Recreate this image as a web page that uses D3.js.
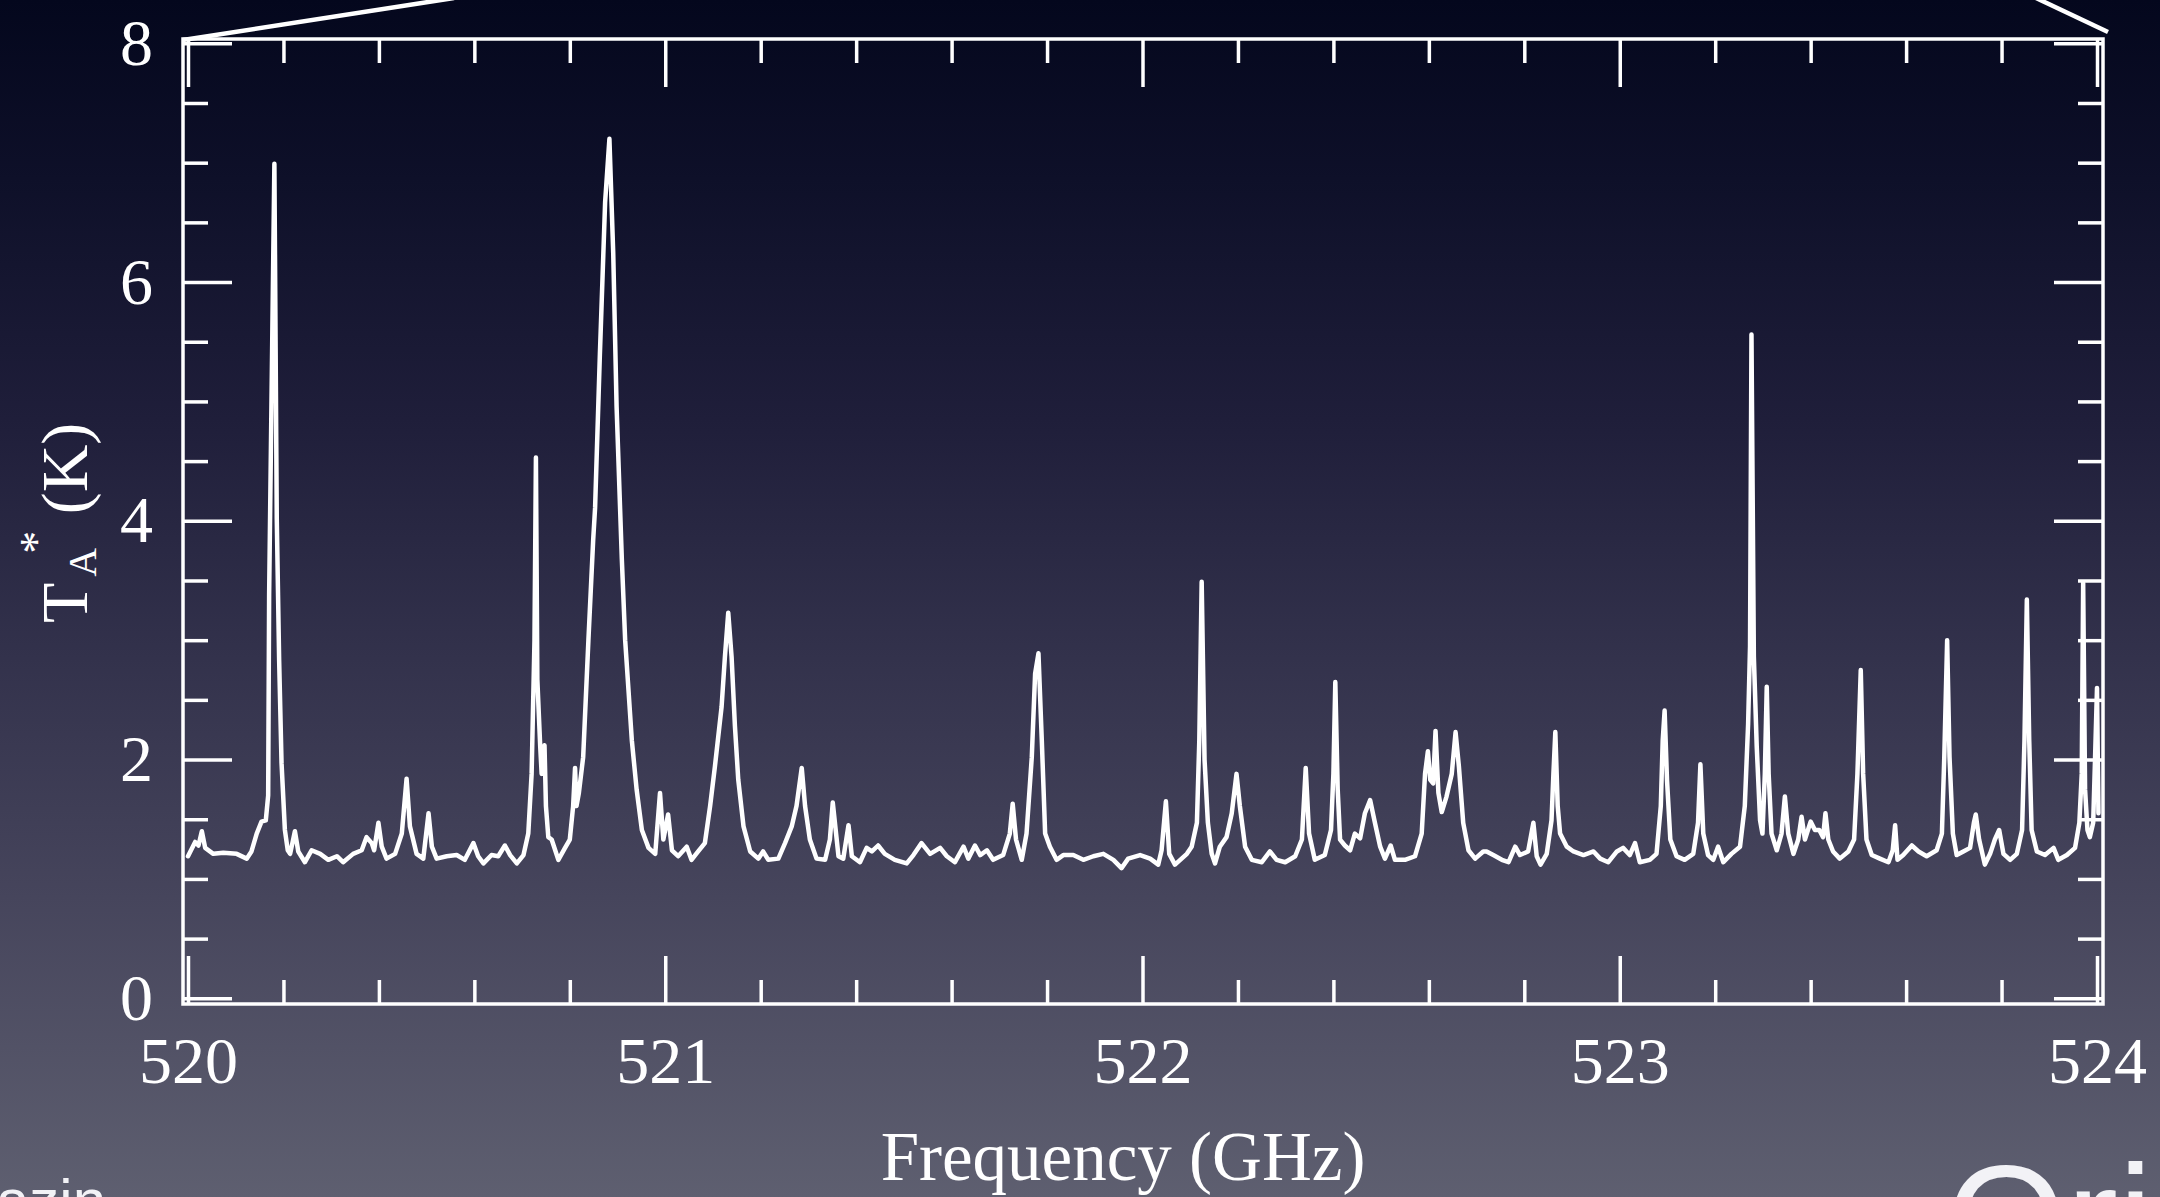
<!DOCTYPE html>
<html><head><meta charset="utf-8">
<script src="https://cdn.jsdelivr.net/npm/d3@7/dist/d3.min.js"></script>
<style>html,body{margin:0;padding:0;overflow:hidden;background:#1a1a30}</style>
</head><body>
<svg id="chart" width="2160" height="1197"></svg>
<script>
// ---- data ----
const frequencyGHz = [
520.000,520.015,520.022,520.029,520.036,520.053,520.074,520.102,520.123,520.133,520.144,520.154,520.163,520.168,520.170,520.181,520.186,520.191,520.196,520.203,
520.209,520.214,520.224,520.231,520.245,520.259,520.277,520.294,520.312,520.325,520.346,520.364,520.374,520.385,520.390,520.399,520.406,520.416,520.434,520.448,
520.458,520.465,520.479,520.493,520.504,520.511,520.521,520.542,520.563,520.580,520.598,520.608,520.619,520.636,520.650,520.664,520.675,520.689,520.703,520.713,
520.720,520.726,520.729,520.732,520.738,520.741,520.747,520.750,520.755,520.762,520.776,520.790,520.800,520.807,520.811,520.814,520.819,520.828,520.839,520.849,
520.853,520.863,520.874,520.883,520.891,520.898,520.909,520.916,520.930,520.940,520.951,520.965,520.979,520.989,520.996,521.006,521.014,521.027,521.045,521.055,
521.069,521.083,521.094,521.104,521.118,521.125,521.132,521.139,521.146,521.153,521.164,521.178,521.195,521.205,521.216,521.237,521.251,521.265,521.275,521.286,
521.293,521.303,521.317,521.335,521.345,521.351,521.363,521.373,521.384,521.391,521.408,521.422,521.433,521.446,521.460,521.481,521.506,521.520,521.537,521.555,
521.576,521.590,521.607,521.625,521.635,521.649,521.660,521.674,521.687,521.708,521.722,521.728,521.735,521.747,521.757,521.768,521.775,521.782,521.789,521.796,
521.806,521.820,521.834,521.855,521.876,521.897,521.918,521.939,521.956,521.970,521.995,522.016,522.033,522.040,522.049,522.056,522.068,522.082,522.093,522.103,
522.114,522.119,522.124,522.130,522.137,522.145,522.152,522.162,522.176,522.187,522.197,522.204,522.215,522.229,522.250,522.267,522.281,522.299,522.320,522.334,
522.342,522.349,522.361,522.382,522.395,522.400,522.404,522.409,522.414,522.424,522.435,522.445,522.456,522.466,522.477,522.487,522.498,522.508,522.520,522.529,
522.550,522.571,522.585,522.592,522.598,522.603,522.609,522.614,522.620,522.627,522.637,522.648,522.656,522.663,522.672,522.683,522.697,522.714,522.721,522.735,
522.753,522.767,522.781,522.791,522.808,522.819,522.826,522.834,522.847,522.857,522.861,522.865,522.870,522.875,522.889,522.903,522.924,522.945,522.959,522.976,
522.994,523.007,523.021,523.032,523.042,523.063,523.077,523.086,523.090,523.094,523.099,523.106,523.119,523.136,523.154,523.164,523.169,523.175,523.185,523.196,
523.206,523.217,523.234,523.252,523.262,523.269,523.273,523.276,523.281,523.287,523.294,523.299,523.304,523.308,523.312,523.318,523.329,523.339,523.346,523.353,
523.364,523.374,523.381,523.388,523.400,523.409,523.418,523.426,523.431,523.437,523.447,523.461,523.479,523.491,523.498,523.505,523.510,523.517,523.528,523.545,
523.563,523.572,523.577,523.582,523.594,523.612,523.626,523.643,523.664,523.675,523.680,523.686,523.691,523.698,523.706,523.720,523.734,523.742,523.746,523.753,
523.765,523.776,523.786,523.795,523.804,523.818,523.832,523.843,523.848,523.853,523.858,523.863,523.874,523.891,523.909,523.919,523.937,523.954,523.963,523.968,
523.971,523.975,523.980,523.985,523.992,523.996,524.000,524.003
];
const antennaTempK = [
1.19,1.31,1.28,1.40,1.26,1.21,1.22,1.21,1.17,1.23,1.38,1.48,1.49,1.70,3.38,6.99,4.02,2.83,1.97,1.41,
1.24,1.21,1.40,1.23,1.14,1.24,1.21,1.16,1.19,1.14,1.21,1.24,1.35,1.30,1.24,1.47,1.27,1.17,1.21,1.38,
1.84,1.44,1.21,1.17,1.55,1.27,1.17,1.19,1.20,1.16,1.30,1.19,1.13,1.20,1.19,1.28,1.20,1.13,1.20,1.38,
1.88,3.00,4.53,2.67,2.11,1.88,2.12,1.61,1.35,1.33,1.16,1.26,1.33,1.61,1.93,1.61,1.72,2.02,3.00,3.84,
4.11,5.39,6.67,7.20,6.24,4.96,3.68,3.00,2.16,1.75,1.41,1.26,1.21,1.72,1.33,1.54,1.24,1.19,1.27,1.16,
1.23,1.30,1.61,1.94,2.44,2.86,3.23,2.86,2.28,1.83,1.44,1.23,1.17,1.23,1.16,1.17,1.30,1.44,1.61,1.93,
1.61,1.33,1.17,1.16,1.33,1.64,1.19,1.17,1.45,1.19,1.14,1.26,1.23,1.28,1.21,1.16,1.13,1.20,1.30,1.21,
1.26,1.19,1.14,1.27,1.17,1.28,1.20,1.24,1.16,1.20,1.38,1.63,1.33,1.16,1.38,2.02,2.72,2.89,2.16,1.38,
1.27,1.16,1.20,1.20,1.16,1.19,1.21,1.16,1.09,1.17,1.20,1.17,1.12,1.24,1.65,1.21,1.12,1.17,1.21,1.27,
1.47,2.16,3.49,2.00,1.47,1.21,1.13,1.27,1.35,1.55,1.88,1.61,1.27,1.16,1.14,1.23,1.16,1.14,1.19,1.33,
1.93,1.38,1.16,1.20,1.41,1.88,2.65,1.75,1.33,1.28,1.24,1.38,1.34,1.55,1.66,1.47,1.27,1.17,1.28,1.16,
1.16,1.19,1.38,1.88,2.07,1.83,1.80,2.24,1.72,1.56,1.69,1.88,2.23,1.94,1.47,1.24,1.17,1.23,1.23,1.20,
1.16,1.14,1.27,1.20,1.23,1.47,1.19,1.12,1.21,1.49,1.88,2.23,1.61,1.38,1.27,1.23,1.20,1.23,1.17,1.14,
1.23,1.26,1.20,1.30,1.14,1.16,1.21,1.61,2.16,2.41,1.83,1.33,1.19,1.16,1.21,1.47,1.96,1.38,1.20,1.16,
1.27,1.14,1.21,1.27,1.61,2.30,2.95,5.56,2.86,2.11,1.49,1.38,1.88,2.61,1.88,1.38,1.24,1.38,1.69,1.38,
1.21,1.33,1.52,1.33,1.48,1.41,1.41,1.35,1.55,1.33,1.23,1.17,1.23,1.33,1.88,2.75,1.88,1.33,1.20,1.17,
1.14,1.24,1.45,1.16,1.20,1.28,1.23,1.19,1.24,1.38,2.02,3.00,2.02,1.38,1.20,1.23,1.26,1.47,1.54,1.33,
1.12,1.21,1.33,1.41,1.21,1.16,1.21,1.41,2.16,3.34,2.16,1.41,1.23,1.20,1.26,1.16,1.20,1.26,1.47,1.88,
3.48,1.75,1.41,1.35,1.47,2.02,2.60,1.55
];
const xMajorTicks = [520, 521, 522, 523, 524];
const xMinorTicks = [520.2, 520.4, 520.6, 520.8, 521.2, 521.4, 521.6, 521.8, 522.2, 522.4, 522.6, 522.8, 523.2, 523.4, 523.6, 523.8];
const yMajorTicks = [0, 2, 4, 6, 8];
const yMinorTicks = [0.5, 1, 1.5, 2.5, 3, 3.5, 4.5, 5, 5.5, 6.5, 7, 7.5];
const xTitle = "Frequency (GHz)";
const slideTextLeft = "azin";
const slideTextRight = "Ori";

// ---- drawing ----
const W = 2160, H = 1197;
const frame = {left: 183, right: 2103, top: 39, bottom: 1004};
const svg = d3.select("#chart");

const defs = svg.append("defs");
const grad = defs.append("linearGradient").attr("id", "bg").attr("x1", 0).attr("y1", 0).attr("x2", 0).attr("y2", 1);
[[0, "#04071d"], [0.15, "#0e1029"], [0.35, "#1f1e3a"], [0.55, "#33324c"], [0.75, "#46455c"], [1, "#5e5f70"]]
  .forEach(([o, c]) => grad.append("stop").attr("offset", o).attr("stop-color", c));
svg.append("rect").attr("width", W).attr("height", H).attr("fill", "url(#bg)");

const x = d3.scaleLinear().domain([520, 524]).range([188, 2097]);
const y = d3.scaleLinear().domain([0, 8]).range([998.3, 43.3]);

const serif = "'Liberation Serif', 'Times New Roman', serif";
const white = "#ffffff";

// decorative zoom lines from the slide
svg.append("line").attr("x1", frame.left).attr("y1", frame.top + 1).attr("x2", 454).attr("y2", -2)
  .attr("stroke", white).attr("stroke-width", 4.5);
svg.append("line").attr("x1", frame.right + 5).attr("y1", frame.top - 7).attr("x2", 2036).attr("y2", -2)
  .attr("stroke", white).attr("stroke-width", 4.5);

function styleAxis(g) {
  g.select(".domain").remove();
  g.selectAll(".tick line").attr("stroke", white).attr("stroke-width", 3.5);
  g.selectAll(".tick text").attr("fill", white).attr("font-family", serif).attr("font-size", 66);
}

// bottom
svg.append("g").attr("transform", `translate(0,${frame.bottom})`)
  .call(d3.axisBottom(x).tickValues(xMajorTicks).tickSize(-48).tickPadding(32).tickFormat(d3.format("d"))).call(styleAxis);
svg.append("g").attr("transform", `translate(0,${frame.bottom})`)
  .call(d3.axisBottom(x).tickValues(xMinorTicks).tickSize(-24).tickFormat("")).call(styleAxis);
// top
svg.append("g").attr("transform", `translate(0,${frame.top})`)
  .call(d3.axisTop(x).tickValues(xMajorTicks).tickSize(-48).tickFormat("")).call(styleAxis);
svg.append("g").attr("transform", `translate(0,${frame.top})`)
  .call(d3.axisTop(x).tickValues(xMinorTicks).tickSize(-24).tickFormat("")).call(styleAxis);
// left
svg.append("g").attr("transform", `translate(${frame.left},0)`)
  .call(d3.axisLeft(y).tickValues(yMajorTicks).tickSize(-49).tickPadding(30).tickFormat(d3.format("d"))).call(styleAxis);
svg.append("g").attr("transform", `translate(${frame.left},0)`)
  .call(d3.axisLeft(y).tickValues(yMinorTicks).tickSize(-25).tickFormat("")).call(styleAxis);
// right
svg.append("g").attr("transform", `translate(${frame.right},0)`)
  .call(d3.axisRight(y).tickValues(yMajorTicks).tickSize(-49).tickFormat("")).call(styleAxis);
svg.append("g").attr("transform", `translate(${frame.right},0)`)
  .call(d3.axisRight(y).tickValues(yMinorTicks).tickSize(-25).tickFormat("")).call(styleAxis);

// frame
svg.append("rect").attr("x", frame.left).attr("y", frame.top)
  .attr("width", frame.right - frame.left).attr("height", frame.bottom - frame.top)
  .attr("fill", "none").attr("stroke", white).attr("stroke-width", 3.5);

// spectrum
const pts = frequencyGHz.map((f, i) => [f, antennaTempK[i]]);
svg.append("path").datum(pts)
  .attr("d", d3.line().x(d => x(d[0])).y(d => y(d[1])))
  .attr("fill", "none").attr("stroke", white).attr("stroke-width", 4.5)
  .attr("stroke-linejoin", "round").attr("stroke-linecap", "round");

// x title
svg.append("text").attr("x", 1123).attr("y", 1180).attr("text-anchor", "middle")
  .attr("font-family", serif).attr("font-size", 69).attr("fill", white).text(xTitle);

// y title: T_A^* (K)
const yt = svg.append("text").attr("transform", "translate(87,623) rotate(-90)")
  .attr("font-family", serif).attr("fill", white).attr("font-size", 66);
yt.append("tspan").text("T");
yt.append("tspan").attr("font-size", 40).attr("dx", 6).attr("dy", 9).text("A");
yt.append("tspan").attr("font-size", 46).attr("dx", -6).attr("dy", -44).text("*");
yt.append("tspan").attr("font-size", 66).attr("dy", 35).text(" (K)");

// slide text cut off at the bottom edge (as in the reference slide)
const sans = "'Liberation Sans', Arial, sans-serif";
svg.append("text").attr("x", -4).attr("y", 1221).attr("font-family", sans).attr("font-size", 60)
  .attr("fill", "#f2f2f6").text(slideTextLeft);
svg.append("text").attr("x", 1946).attr("y", 1274).attr("font-family", sans).attr("font-size", 155)
  .attr("fill", "#f2f2f6").text(slideTextRight);
</script>
</body></html>
